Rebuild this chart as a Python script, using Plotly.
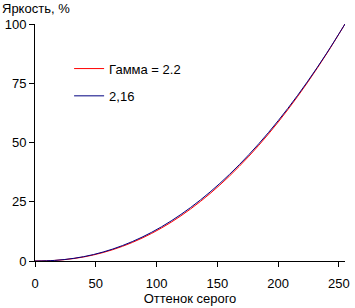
import plotly.graph_objects as go

gray = [0, 16, 32, 48, 64, 80, 96, 112, 128, 144, 160, 176, 192, 208, 224, 240, 255]
gamma_22 = [0, 0.23, 1.04, 2.54, 4.78, 7.81, 11.66, 16.36, 21.96, 28.45, 35.87, 44.24, 53.56, 63.88, 75.19, 87.52, 100]
measured = [0, 0.25, 1.13, 2.71, 5.05, 8.18, 12.12, 16.91, 22.57, 29.10, 36.55, 44.90, 54.17, 64.40, 75.58, 87.73, 100]

x_ticks = [0, 50, 100, 150, 200, 250]
y_ticks = [0, 25, 50, 75, 100]

font = dict(family="Liberation Sans, Arial", size=13, color="black")

fig = go.Figure()
fig.add_trace(go.Scatter(x=gray, y=gamma_22, mode="lines", name="Гамма = 2.2",
                         line=dict(color="#ff0000", width=1, shape="spline"),
                         legend="legend"))
fig.add_trace(go.Scatter(x=gray, y=measured, mode="lines", name="2,16",
                         line=dict(color="#000080", width=1, shape="spline"),
                         legend="legend2"))

fig.update_layout(
    width=355, height=308,
    margin=dict(l=34, r=5, t=24, b=47),
    paper_bgcolor="white", plot_bgcolor="white",
    font=font,
    showlegend=True,
    legend=dict(x=0.11, y=0.875, xanchor="left", yanchor="top",
                bgcolor="rgba(0,0,0,0)", font=font, itemwidth=30),
    legend2=dict(x=0.11, y=0.76, xanchor="left", yanchor="top",
                 bgcolor="rgba(0,0,0,0)", font=font, itemwidth=30),
    annotations=[dict(text="Яркость, %", x=0, y=1, xref="paper", yref="paper",
                      xanchor="left", yanchor="top", showarrow=False,
                      font=font, xshift=-35, yshift=25)],
)
fig.update_xaxes(range=[0, 255], tickvals=x_ticks, showgrid=False, zeroline=False,
                 showline=True, linecolor="black", linewidth=1,
                 ticks="outside", ticklen=5, tickcolor="black",
                 ticklabelstandoff=5,
                 title=dict(text="Оттенок серого", font=font, standoff=1))
fig.update_yaxes(range=[0, 100], tickvals=y_ticks, showgrid=False, zeroline=False,
                 showline=True, linecolor="black", linewidth=1,
                 ticks="outside", ticklen=5, tickcolor="black")

fig.write_html("out.html")
